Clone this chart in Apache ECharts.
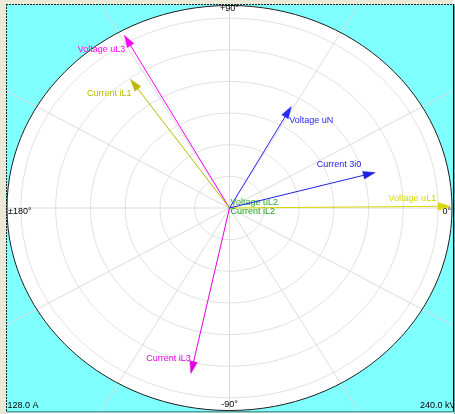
<!DOCTYPE html>
<html>
<head>
<meta charset="utf-8">
<script src="https://cdn.jsdelivr.net/npm/echarts@6/dist/echarts.min.js"></script>
<style>
html,body{margin:0;padding:0;background:#ffffff;}
#chart{width:455px;height:414px;}
</style>
</head>
<body>
<div id="chart"></div>
<script>
// ---------------- DATA ----------------
const vectorNames = ['Voltage uL1', 'Voltage uL2', 'Voltage uL3', 'Voltage uN',
                     'Current iL1', 'Current iL2', 'Current iL3', 'Current 3i0'];
const vectorKinds = ['U', 'U', 'U', 'U', 'I', 'I', 'I', 'I'];
const magnitudes  = [238, 0, 234, 137.5, 99.3, 0, 106.9, 86.8];   // kV for U, A for I
const anglesDeg   = [0.5, 0, 119, 61, 125, 0, -102, 15];
const currentFullScale = 128.0;   // A
const voltageFullScale = 240.0;   // kV
const ringValuesA = [20, 40, 60, 80, 100, 120];
const spokeAngles = [0, 30, 60, 90, 120, 150, 180, 210, 240, 270, 300, 330];
const angleTickValues = [0, 90, 180, -90];
const angleTickLabels = ['0°', '+90°', '±180°', '-90°'];
const scaleLabels = [currentFullScale.toFixed(1) + ' A', voltageFullScale.toFixed(1) + ' kV'];

// ---------------- STYLE ----------------
const vectorColors = ['#D8D800', '#30A830', '#FF00FF', '#2828F0',
                      '#BABA00', '#20A020', '#E000E0', '#2020E0'];
const FONT = '9px "Liberation Sans", Arial, sans-serif';
const RAD = Math.PI / 180;

const chart = echarts.init(document.getElementById('chart'), null, {renderer: 'canvas', width: 455, height: 414});

function ellipseOf(api, r) {
  const c = api.coord([0, 0]);
  const px = api.coord([r, 0]);
  const py = api.coord([0, r]);
  return {cx: c[0], cy: c[1], rx: px[0] - c[0], ry: c[1] - py[1]};
}

const option = {
  animation: false,
  grid: {left: 7, right: 3, top: 5.5, bottom: 3.5, containLabel: false},
  xAxis: {type: 'value', min: -1, max: 1, show: false},
  yAxis: {type: 'value', min: -1, max: 1, show: false},
  graphic: [
    {type: 'rect', shape: {x: 0, y: 0, width: 6, height: 414}, style: {fill: '#ECE9D8'}, z: 0},
    {type: 'rect', shape: {x: 0, y: 0, width: 455, height: 4}, style: {fill: '#ECE9D8'}, z: 0},
    {type: 'rect', shape: {x: 6, y: 4, width: 447, height: 408}, style: {fill: '#80FFFF'}, z: 0},
    {type: 'line', shape: {x1: 6, y1: 4.5, x2: 453, y2: 4.5}, style: {stroke: '#222', lineWidth: 1, lineDash: [2, 1]}, z: 100},
    {type: 'line', shape: {x1: 6.5, y1: 4, x2: 6.5, y2: 412}, style: {stroke: '#222', lineWidth: 1, lineDash: [2, 1]}, z: 100},
    {type: 'rect', shape: {x: 453, y: 0, width: 2, height: 414}, style: {fill: '#ffffff'}, z: 99},
    {type: 'line', shape: {x1: 453.5, y1: 4, x2: 453.5, y2: 412}, style: {stroke: '#000', lineWidth: 1}, z: 100},
    {type: 'line', shape: {x1: 454.5, y1: 4, x2: 454.5, y2: 414}, style: {stroke: '#5AA5A5', lineWidth: 1}, z: 100},
    {type: 'line', shape: {x1: 6, y1: 411.5, x2: 455, y2: 411.5}, style: {stroke: '#4E9C9C', lineWidth: 1}, z: 100},
    {type: 'line', shape: {x1: 6, y1: 412.5, x2: 455, y2: 412.5}, style: {stroke: '#9CC8C8', lineWidth: 1}, z: 100}
  ],
  series: [
    { // white disc (outer boundary = full scale)
      type: 'custom', clip: false, z: 1,
      data: [[1]],
      renderItem: (params, api) => ({
        type: 'ellipse', shape: ellipseOf(api, api.value(0)),
        style: {fill: '#ffffff', stroke: null}
      })
    },
    { // rings
      type: 'custom', clip: false, z: 2,
      data: ringValuesA.map(v => [v / currentFullScale]),
      renderItem: (params, api) => ({
        type: 'ellipse', shape: ellipseOf(api, api.value(0)),
        style: {fill: 'none', stroke: '#E2E2E2', lineWidth: 1}
      })
    },
    { // spokes
      type: 'custom', clip: true, z: 2,
      data: spokeAngles.map(a => [a]),
      renderItem: (params, api) => {
        const a = api.value(0) * RAD;
        const c = api.coord([0, 0]);
        const e = api.coord([2 * Math.cos(a), 2 * Math.sin(a)]);
        return {type: 'line', shape: {x1: c[0], y1: c[1], x2: e[0], y2: e[1]},
                style: {stroke: '#DCDCDC', lineWidth: 1}};
      }
    },
    { // outer border
      type: 'custom', clip: false, z: 3,
      data: [[1]],
      renderItem: (params, api) => ({
        type: 'ellipse', shape: ellipseOf(api, api.value(0)),
        style: {fill: 'none', stroke: '#202020', lineWidth: 1}
      })
    },
    { // angle tick labels
      type: 'custom', clip: false, z: 4,
      data: angleTickValues.map((a, i) => [a, i]),
      renderItem: (params, api) => {
        const a = api.value(0) * RAD;
        const i = api.value(1);
        const cs = Math.round(Math.cos(a)), sn = Math.round(Math.sin(a));
        const p = api.coord([cs, sn]);
        let x = p[0], y = p[1], align = 'center', va = 'middle';
        if (cs > 0) { align = 'right'; x -= 1; y += 4; }
        else if (cs < 0) { align = 'left'; x += 1; y += 4; }
        else if (sn > 0) { va = 'top'; y -= 1; }
        else { y -= 5.5; }
        return {type: 'text', x: x, y: y,
                style: {text: angleTickLabels[i], fill: '#000', font: FONT, align: align, verticalAlign: va}};
      }
    },
    { // scale labels
      type: 'custom', clip: false, z: 4,
      data: scaleLabels.map((s, i) => [i]),
      renderItem: (params, api) => {
        const i = api.value(0);
        const p = api.coord([i === 0 ? -1 : 1, -1]);
        return {type: 'text', x: i === 0 ? p[0] + 0.5 : p[0] - 32, y: p[1] - 5,
                style: {text: scaleLabels[i], fill: '#000', font: FONT, align: 'left', verticalAlign: 'middle'}};
      }
    },
    { // vectors
      type: 'custom', clip: false, z: 5,
      data: magnitudes.map((m, i) => [m / (vectorKinds[i] === 'U' ? voltageFullScale : currentFullScale), anglesDeg[i], i]),
      renderItem: (params, api) => {
        const m = api.value(0);
        const deg = api.value(1);
        const a = deg * RAD;
        const i = api.value(2);
        const col = vectorColors[i];
        const c = api.coord([0, 0]);
        const t = api.coord([m * Math.cos(a), m * Math.sin(a)]);
        const dx = t[0] - c[0], dy = t[1] - c[1];
        const len = Math.hypot(dx, dy);
        const children = [];
        let lx, ly, align;
        if (len > 2) {
          const ux = dx / len, uy = dy / len;
          const hl = Math.min(12, len), hw = 3.8;
          const bx = t[0] - ux * hl, by = t[1] - uy * hl;
          children.push({type: 'line', shape: {x1: c[0], y1: c[1], x2: bx + ux, y2: by + uy},
                         style: {stroke: col, lineWidth: 1}});
          children.push({type: 'polygon', shape: {points: [[t[0], t[1]], [bx - uy * hw, by + ux * hw], [bx + uy * hw, by - ux * hw]]},
                         style: {fill: col, stroke: col, lineWidth: 0.5}});
          if (deg > -30 && deg < 30) { align = 'right'; lx = t[0] - 14; ly = t[1] - 8; }
          else if (deg >= 30 && deg <= 90) { align = 'left'; lx = t[0] - 2; ly = t[1] + 14; }
          else if (deg > 90) { align = 'right'; lx = t[0] + 1; ly = t[1] + 14; }
          else { align = 'right'; lx = t[0]; ly = t[1] - 15; }
        } else {
          align = 'left'; lx = c[0] + 1; ly = c[1] + (vectorKinds[i] === 'U' ? -5.5 : 4);
        }
        children.push({type: 'text', x: lx, y: ly,
                       style: {text: vectorNames[i], fill: col, font: FONT, align: align, verticalAlign: 'middle'}});
        return {type: 'group', children: children};
      }
    }
  ]
};
chart.setOption(option);
</script>
</body>
</html>
